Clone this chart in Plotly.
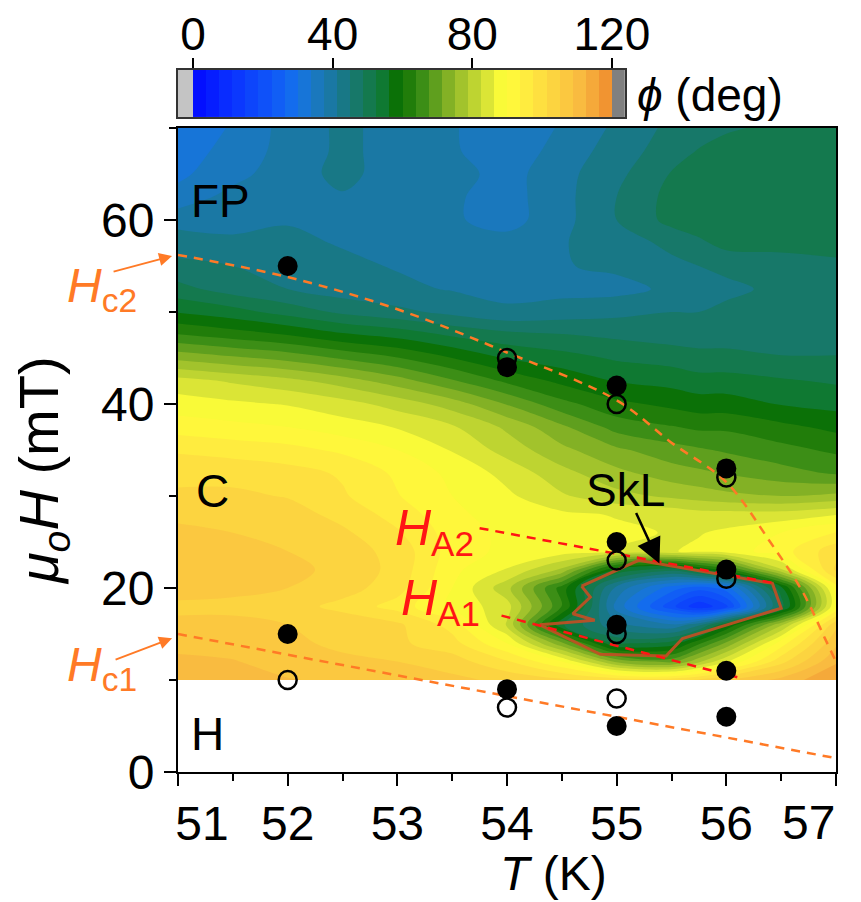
import plotly.graph_objects as go

# ---------------- data ----------------
T_grid = [51, 51.5, 52, 52.5, 53, 53.5, 54, 54.5, 55, 55.5, 55.75, 56, 56.5, 57]
H_grid = [10, 12, 14, 16, 18, 20, 22, 24, 26, 28, 30, 32.5, 35, 37.5, 40, 42.5,
          45, 47.5, 50, 52.5, 55, 57.5, 60, 62.5, 65, 67.5, 70]

phi_H10 = [112, 111, 109, 108, 107, 106, 104, 102, 100, 100, 102, 105, 110, 116]
phi_H12 = [110, 109, 107, 106, 105, 103, 98, 90, 74, 70, 78, 86, 100, 112]
phi_H14 = [107, 107, 106, 104, 102, 99, 90, 72, 52, 54, 63, 72, 92, 108]
phi_H16 = [106, 106, 105, 104, 102, 96, 82, 53, 42, 38, 44, 56, 78, 104]
phi_H18 = [104, 104, 103, 100, 96, 89, 84, 64, 36, 20, 12, 18, 50, 90]
phi_H20 = [107, 106, 105, 103, 99, 90, 80, 62, 40, 28, 24, 28, 55, 92]
phi_H22 = [108, 107, 106, 104, 100, 91, 86, 78, 56, 50, 56, 62, 82, 102]
phi_H24 = [107, 106, 105, 103, 100, 92, 89, 88, 86, 86, 87, 88, 92, 100]
phi_H26 = [106, 105, 104, 102, 98, 92, 89, 88, 87, 86, 86, 87, 90, 94]
phi_H28 = [104, 104, 103, 100, 96, 91, 88, 87, 86, 85, 84, 84, 84, 86]
phi_H30 = [102, 102, 101, 98, 94, 90, 87, 83, 80, 78, 77, 76, 75, 76]
phi_H32 = [100, 100, 99, 97, 93, 89, 85, 80, 76, 73, 72, 71, 69, 67]
phi_H35 = [97, 96, 95, 93, 90, 86, 81, 76, 72, 69, 68, 67, 65, 63]
phi_H37 = [92, 91, 90, 88, 86, 83, 78, 72, 66, 64, 63, 63, 61, 59]
phi_H40 = [88, 87, 86, 84, 81, 77, 71, 65, 61, 59, 58, 58, 56, 55]
phi_H42 = [84, 82, 80, 77, 73, 68, 63, 59, 56, 55, 54, 54, 53, 52]
phi_H45 = [74, 72, 70, 67, 64, 60, 56, 54, 52, 51, 50, 50, 49, 49]
phi_H47 = [64, 62, 60, 57, 55, 52, 50, 49, 48, 47, 47, 47, 47, 47]
phi_H50 = [56, 54, 51, 48, 46, 44, 42, 43, 44, 45, 45, 46, 47, 47]
phi_H52 = [50, 47, 45, 43, 42, 41, 40, 40, 40, 42, 43, 44, 46, 47]
phi_H55 = [46, 45, 43, 42, 41, 41, 41, 41, 42, 44, 45, 46, 47, 48]
phi_H57 = [43, 42, 42, 41, 41, 40, 39, 41, 43, 46, 48, 50, 50, 50]
phi_H60 = [40, 40, 41, 41, 40, 38, 36, 40, 45, 50, 51, 52, 52, 51]
phi_H62 = [35, 39, 40, 41, 40, 38, 36, 40, 45, 50, 51, 52, 52, 52]
phi_H65 = [33, 36, 40, 42, 40, 39, 36, 40, 44, 49, 51, 52, 52, 52]
phi_H67 = [32, 35, 39, 42, 40, 38, 35, 39, 43, 47, 49, 51, 52, 52]
phi_H70 = [32, 34, 39, 42, 40, 38, 34, 38, 42, 46, 47, 48, 50, 52]

phi = [phi_H10, phi_H12, phi_H14, phi_H16, phi_H18, phi_H20, phi_H22, phi_H24,
       phi_H26, phi_H28, phi_H30, phi_H32, phi_H35, phi_H37, phi_H40, phi_H42,
       phi_H45, phi_H47, phi_H50, phi_H52, phi_H55, phi_H57, phi_H60, phi_H62,
       phi_H65, phi_H67, phi_H70]

filled_T = [52, 54, 55, 56, 55, 56, 55, 56, 52, 54, 55, 56]
filled_H = [55, 44, 42, 33, 25, 22, 16, 11, 15, 9, 5, 6]
open_T = [54, 55, 56, 55, 56, 55, 52, 54, 55]
open_H = [45, 40, 32, 23, 21, 15, 10, 7, 8]

Hc2_T = [51, 52, 53, 54, 55, 55.5, 56, 56.4, 56.7, 56.9, 57.0]
Hc2_H = [56.2, 53.8, 50.3, 45.6, 40.4, 35.8, 31.5, 25.0, 19.5, 14.5, 12.0]
Hc1_T = [51, 57]
Hc1_H = [15, 1.5]
HA2_T = [53.75, 56.45]
HA2_H = [26.5, 20.5]
HA1_T = [53.95, 56.1]
HA1_H = [17.0, 10.3]

SkL_T = [54.68, 55.2, 56.42, 56.5, 55.6, 55.45, 54.85, 54.3, 54.8, 54.6, 54.76, 54.68]
SkL_H = [20.2, 23.0, 20.5, 17.8, 14.5, 12.6, 12.8, 16.0, 16.5, 17.2, 19.0, 20.2]

phi_ticks = [0, 40, 80, 120]
T_ticks = [51, 52, 53, 54, 55, 56, 57]
T_ticktext = ["\u200351", "52", "53", "54", "55", "56", ""]   # last label drawn separately (nudged inside page)
T_last_label = "57"
H_ticks = [0, 20, 40, 60]

# contour levels
lev_start, lev_end, lev_size = 0, 120, 3.75
n_bands = int(round((lev_end - lev_start) / lev_size))
cb_edges = [lev_start + lev_size * k for k in range(n_bands + 1)]
cb_mid = [lev_start + lev_size * (k + 0.5) for k in range(n_bands)]

colorscale = [
    [0.0, "#0000ff"], [0.10, "#0a30ff"], [0.20, "#1058f8"], [0.25, "#1470ec"],
    [0.29, "#1a78c8"], [0.333, "#1a78a4"], [0.37, "#187880"], [0.41, "#16785a"],
    [0.45, "#107a38"], [0.49, "#0a7000"], [0.55, "#409018"], [0.617, "#90b828"],
    [0.66, "#b8d030"], [0.71, "#e8ec38"], [0.733, "#ffff38"], [0.80, "#ffe840"],
    [0.858, "#fcd040"], [0.917, "#f8b840"], [0.975, "#f09030"], [1.0, "#f08030"],
]

FONT = "Liberation Sans, Arial, sans-serif"
ORANGE = "#ff7a26"
RED = "#ff1515"

fig = go.Figure()

fig.add_trace(go.Contour(
    x=T_grid, y=H_grid, z=phi, colorscale=colorscale, showscale=False,
    contours=dict(start=lev_start, end=lev_end, size=lev_size, showlines=False),
    line=dict(width=0), hoverinfo="skip", xaxis="x", yaxis="y"))

# colour bar drawn as heatmaps on its own axes
fig.add_trace(go.Heatmap(
    x=[-4.3, 0, 120, 123.7], y=[0, 1], z=[[0, None, 1]],
    colorscale=[[0, "#c4c4c4"], [0.5, "#c4c4c4"], [0.5, "#808080"], [1, "#808080"]],
    zmin=0, zmax=1, showscale=False, xaxis="x2", yaxis="y2", hoverinfo="skip"))
fig.add_trace(go.Heatmap(
    x=cb_edges, y=[0, 1], z=[cb_mid], colorscale=colorscale,
    zmin=lev_start - lev_size / 2, zmax=lev_end + lev_size / 2,
    showscale=False, xaxis="x2", yaxis="y2", hoverinfo="skip"))

# phase lines
fig.add_trace(go.Scatter(x=Hc2_T, y=Hc2_H, mode="lines", line=dict(color=ORANGE, width=2.5, dash="9px,7px", shape="spline"), hoverinfo="skip"))
fig.add_trace(go.Scatter(x=Hc1_T, y=Hc1_H, mode="lines", line=dict(color=ORANGE, width=2.5, dash="9px,7px"), hoverinfo="skip"))
fig.add_trace(go.Scatter(x=SkL_T, y=SkL_H, mode="lines", line=dict(color="rgba(196,78,36,0.9)", width=3), hoverinfo="skip"))
fig.add_trace(go.Scatter(x=HA2_T, y=HA2_H, mode="lines", line=dict(color=RED, width=2.5, dash="9px,7px"), hoverinfo="skip"))
fig.add_trace(go.Scatter(x=HA1_T, y=HA1_H, mode="lines", line=dict(color=RED, width=2.5, dash="9px,7px"), hoverinfo="skip"))

# data points
fig.add_trace(go.Scatter(x=open_T, y=open_H, mode="markers",
                         marker=dict(symbol="circle-open", size=18, color="black", line=dict(width=2.5)), hoverinfo="skip"))
fig.add_trace(go.Scatter(x=filled_T, y=filled_H, mode="markers",
                         marker=dict(symbol="circle", size=20, color="black"), hoverinfo="skip"))

ann = []
def txt(x, y, s, size=46, color="black", xref="x", yref="y", xanchor="center", **kw):
    ann.append(dict(x=x, y=y, xref=xref, yref=yref, text=s, showarrow=False,
                    xanchor=xanchor, yanchor="middle",
                    font=dict(family=FONT, size=size, color=color), **kw))

txt(51.39, 62.1, "FP")
txt(51.31, 30.5, "C")
txt(51.27, 4.1, "H")
txt(55.08, 30.6, "SkL")
txt(53.34, 26.1, "<i>H</i><sub>A2</sub>", size=50, color=RED)
txt(53.39, 18.5, "<i>H</i><sub>A1</sub>", size=50, color=RED)
txt(-0.1155, 0.678, "<i>H</i><sub>c2</sub>", size=48, color=ORANGE, xref="paper", yref="paper")
txt(-0.1155, 0.146, "<i>H</i><sub>c1</sub>", size=48, color=ORANGE, xref="paper", yref="paper")
txt(0.6945, 0.951, "<i>ϕ</i> (deg)", size=46, xref="paper", yref="paper", xanchor="left")
# last x tick label, nudged left like in the reference
txt(T_ticks[-1], -0.0715, T_last_label, size=48, xref="x", yref="paper", xanchor="right", xshift=1)
# axis titles
txt(0.57, -0.142, "<i>T</i> (K)", size=48, xref="paper", yref="paper")
txt(-0.2067, 0.424, "<i>μ</i><sub><i>o</i></sub><i>H</i> (mT)", size=56, xref="paper", yref="paper", textangle=-90)

ann.append(dict(x=-0.009, y=0.7247, xref="paper", yref="paper", text="", showarrow=True,
                ax=-60, ay=16, arrowhead=2, arrowsize=1.3, arrowwidth=2, arrowcolor=ORANGE))
ann.append(dict(x=-0.009, y=0.188, xref="paper", yref="paper", text="", showarrow=True,
                ax=-58, ay=22, arrowhead=2, arrowsize=1.3, arrowwidth=2, arrowcolor=ORANGE))
ann.append(dict(x=55.39, y=22.66, xref="x", yref="y", text="", showarrow=True,
                ax=-24, ay=-52, arrowhead=2, arrowsize=2.0, arrowwidth=2.5, arrowcolor="black"))

axis_common = dict(showgrid=False, zeroline=False, showline=True, linecolor="black",
                   linewidth=2, mirror=True, ticks="outside", tickwidth=2, ticklen=12,
                   tickcolor="black", automargin=False, ticklabeloverflow="allow",
                   tickfont=dict(family=FONT, size=48, color="black"))

fig.update_layout(
    template="none",
    width=861, height=902,
    margin=dict(l=178, r=25, t=60, b=130, autoexpand=False),
    paper_bgcolor="white", plot_bgcolor="white",
    showlegend=False,
    font=dict(family=FONT, color="black"),
    annotations=ann,
    xaxis=dict(domain=[0, 1], range=[51, 57], tickvals=T_ticks, ticktext=T_ticktext,
               ticklabelstandoff=-4,
               minor=dict(dtick=0.5, ticklen=7, tickwidth=2, ticks="outside", tickcolor="black"),
               **axis_common),
    yaxis=dict(domain=[0, 0.9045], range=[0, 70], tickvals=H_ticks,
               minor=dict(dtick=10, ticklen=7, tickwidth=2, ticks="outside", tickcolor="black"),
               **axis_common),
    xaxis2=dict(domain=[0, 0.679], anchor="y2", range=[-4.3, 123.7], side="top",
                tickvals=phi_ticks, ticks="outside", ticklen=10, tickwidth=1.5, tickcolor="black",
                showline=True, mirror=True, linecolor="#333333", linewidth=1.5,
                showgrid=False, zeroline=False, automargin=False, ticklabelstandoff=-10,
                ticklabeloverflow="allow",
                tickfont=dict(family=FONT, size=46, color="black")),
    yaxis2=dict(domain=[0.92, 0.986], anchor="x2", range=[0, 1], showticklabels=False,
                ticks="", showline=True, mirror=True, linecolor="#333333", linewidth=1.5,
                showgrid=False, zeroline=False, automargin=False),
)

fig.write_html("out.html")
